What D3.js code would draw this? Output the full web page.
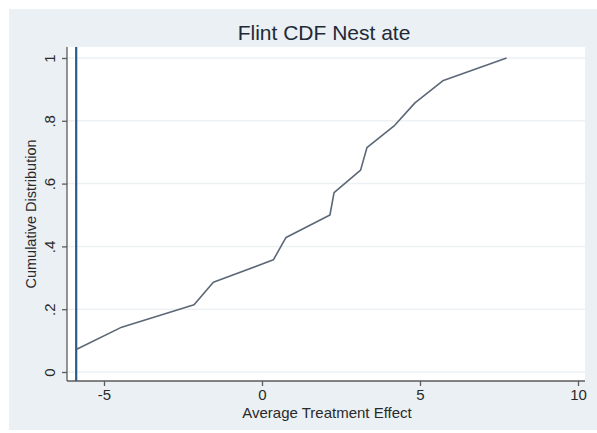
<!DOCTYPE html>
<html>
<head>
<meta charset="utf-8">
<script src="https://cdn.jsdelivr.net/npm/d3@7"></script>
<style>
  body { margin: 0; background: #fff; }
  text { font-family: Arial, "Liberation Sans", sans-serif; }
</style>
</head>
<body>
<div id="chart"></div>
<script>
// ATE values (sorted) and their cumulative share
const ateValues = [-5.88, -4.44, -2.15, -1.54, 0.36, 0.76, 2.15, 2.28, 3.12, 3.32, 4.2, 4.84, 5.74, 7.74];
const cdfValues = [1, 2, 3, 4, 5, 6, 7, 8, 9, 10, 11, 12, 13, 14].map(k => k / 14);
const vLine = -5.88;
const xTicks = [-5, 0, 5, 10];
const xTickLabels = ["-5", "0", "5", "10"];
const yTicks = [0, 0.2, 0.4, 0.6, 0.8, 1];
const yTickLabels = ["0", ".2", ".4", ".6", ".8", "1"];

const width = 597, height = 433;
const plot = { left: 67, right: 585, top: 47, bottom: 381 };

const svg = d3.select("#chart").append("svg")
  .attr("width", width)
  .attr("height", height);

// outer graph region
svg.append("rect")
  .attr("x", 9).attr("y", 9)
  .attr("width", 588).attr("height", 421)
  .attr("fill", "#eaf0f3");

// plot region
svg.append("rect")
  .attr("x", plot.left).attr("y", plot.top)
  .attr("width", plot.right - plot.left)
  .attr("height", plot.bottom - plot.top)
  .attr("fill", "#ffffff");

const x = d3.scaleLinear().domain([-5, 10]).range([104, 578]);
const y = d3.scaleLinear().domain([0, 1]).range([372, 58]);

// grid
svg.append("g")
  .selectAll("line")
  .data(yTicks)
  .enter()
  .append("line")
  .attr("x1", plot.left).attr("x2", plot.right)
  .attr("y1", d => y(d)).attr("y2", d => y(d))
  .attr("stroke", "#edf1f3")
  .attr("stroke-width", 1.5);

// axes
const yAxis = svg.append("g")
  .attr("transform", `translate(${plot.left},0)`)
  .call(d3.axisLeft(y).tickValues(yTicks).tickSize(5).tickFormat((d, i) => yTickLabels[i]));
yAxis.select(".domain").attr("d", `M0,${plot.top}V${plot.bottom}`);

const xAxis = svg.append("g")
  .attr("transform", `translate(0,${plot.bottom})`)
  .call(d3.axisBottom(x).tickValues(xTicks).tickSize(5).tickFormat((d, i) => xTickLabels[i]));
xAxis.select(".domain").attr("d", `M${plot.left},0H${plot.right}`);

[xAxis, yAxis].forEach(a => {
  a.selectAll(".domain, .tick line").attr("stroke", "#5b5b5b").attr("stroke-width", 1.3);
  a.selectAll("text").attr("fill", "#2a2a2a").attr("font-size", 15).attr("font-family", "Arial, 'Liberation Sans', sans-serif");
});
xAxis.selectAll("text").attr("dy", null).attr("y", 19);
yAxis.selectAll(".tick text")
  .attr("x", null).attr("dy", null)
  .attr("text-anchor", "middle")
  .attr("transform", "translate(-18,0) rotate(-90)")
  .attr("y", 0)
  .attr("dominant-baseline", "central");

// vertical reference line
svg.append("line")
  .attr("x1", x(vLine)).attr("x2", x(vLine))
  .attr("y1", plot.top).attr("y2", plot.bottom)
  .attr("stroke", "#2c5a88")
  .attr("stroke-width", 2.2);

// CDF line
const pts = ateValues.map((v, i) => [v, cdfValues[i]]);
svg.append("path")
  .datum(pts)
  .attr("fill", "none")
  .attr("stroke", "#5b6777")
  .attr("stroke-width", 1.6)
  .attr("stroke-linejoin", "round")
  .attr("d", d3.line().x(d => x(d[0])).y(d => y(d[1])));

// title and axis titles
svg.append("text")
  .attr("x", 324).attr("y", 40)
  .attr("text-anchor", "middle")
  .attr("font-size", 21)
  .attr("fill", "#1e2a36")
  .text("Flint CDF Nest ate");

svg.append("text")
  .attr("x", 327).attr("y", 418)
  .attr("text-anchor", "middle")
  .attr("font-size", 15)
  .attr("fill", "#2a2a2a")
  .text("Average Treatment Effect");

svg.append("text")
  .attr("transform", `translate(31,${(plot.top + plot.bottom) / 2}) rotate(-90)`)
  .attr("text-anchor", "middle")
  .attr("dominant-baseline", "central")
  .attr("font-size", 14.5)
  .attr("fill", "#2a2a2a")
  .text("Cumulative Distribution");
</script>
</body>
</html>
